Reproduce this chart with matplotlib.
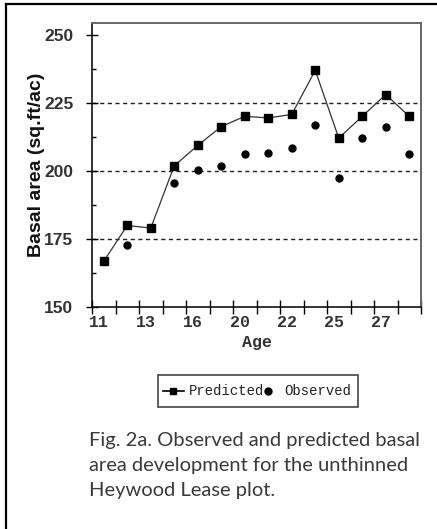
import matplotlib
matplotlib.use("Agg")
import matplotlib.pyplot as plt
from matplotlib.lines import Line2D
from matplotlib.patches import Rectangle

# Stand age classes (only every other one is labelled on the axis)
ages = ["11", "12", "13", "15", "16", "18", "20", "21", "22", "24", "25", "26", "27", "28"]
predicted = [166.8, 180.0, 179.0, 201.9, 209.4, 216.3, 220.1, 219.5, 220.8, 237.0, 212.1, 220.1, 228.1, 220.1]
observed = [166.8, 172.7, 179.0, 195.6, 200.2, 201.9, 206.4, 206.6, 208.5, 216.8, 197.4, 212.1, 216.2, 206.4]
y_major = [150, 175, 200, 225, 250]
y_minor = [162.5, 187.5, 212.5, 237.5]
grid_levels = [175, 200, 225]
caption_lines = ["Fig. 2a. Observed and predicted basal",
                 "area development for the unthinned",
                 "Heywood Lease plot."]

W, H = 437, 529
fig = plt.figure(figsize=(W / 100, H / 100), dpi=100)
fig.patch.set_facecolor("white")


def fx(px):
    return px / W


def fy(py):
    return 1 - py / H


# frame lines along the top and left edges
fig.add_artist(Line2D([fx(6), fx(437)], [fy(4), fy(4)], color="black", lw=1.6))
fig.add_artist(Line2D([fx(6), fx(6)], [fy(4), fy(529)], color="black", lw=1.6))

ax = fig.add_axes([fx(92), fy(307), fx(421) - fx(92), fy(23) - fy(307)])
x = list(range(len(ages)))

for g in grid_levels:
    ax.axhline(g, color="#222222", lw=1.0, ls=(0, (3, 2.5)), zorder=1)

ax.plot(x, observed, ls="none", marker="o", ms=5, color="black", zorder=3)
ax.plot(x, predicted, color="#333333", lw=0.9, marker="s", ms=5.5,
        mfc="black", mec="black", zorder=4)

ax.set_xlim(-0.5, len(ages) - 0.5)
ax.set_ylim(150, 254.4)

for s in ["left", "bottom"]:
    ax.spines[s].set_color("#111111")
    ax.spines[s].set_linewidth(1.2)
for s in ["top", "right"]:
    ax.spines[s].set_color("#666666")
    ax.spines[s].set_linewidth(1.4)

ax.set_yticks(y_major)
ax.set_yticks(y_minor, minor=True)
ax.set_yticklabels([str(v) for v in y_major], fontsize=12.5, fontweight="bold",
                   color="#333333", family="Liberation Sans")
ax.tick_params(axis="y", which="major", direction="inout", length=9, width=1.0, pad=9)
ax.tick_params(axis="y", which="minor", direction="in", length=3, width=1.0)

# category boundaries carry the tick marks; labels sit just right of them
ax.set_xticks([i - 0.5 for i in range(len(ages) + 1)])
ax.set_xticklabels([])
ax.set_xticks([i - 0.2 for i in range(0, len(ages), 2)], minor=True)
ax.set_xticklabels([ages[i] for i in range(0, len(ages), 2)], minor=True,
                   fontsize=12, fontweight="bold", color="#333333",
                   family="Liberation Mono")
ax.tick_params(axis="x", which="major", direction="inout", length=10, width=1.0)
ax.tick_params(axis="x", which="minor", length=0, pad=6)

ax.set_ylabel("Basal area (sq.ft/ac)", fontsize=14, fontweight="bold",
              family="Liberation Sans", color="#111111")
ax.yaxis.set_label_coords(-0.143, 0.5)
ax.set_xlabel("Age", fontsize=12, fontweight="bold", family="Liberation Mono",
              color="#333333", labelpad=3)

# legend box
fig.add_artist(Rectangle((fx(158), fy(407)), fx(358) - fx(158), fy(375) - fy(407),
                         transform=fig.transFigure, fill=False, ec="#444444", lw=1.2))
ly = fy(391)
fig.add_artist(Line2D([fx(163), fx(184)], [ly, ly], color="black", lw=1.2))
fig.add_artist(Line2D([fx(173)], [ly], marker="s", ms=5, color="black", ls="none"))
fig.text(fx(189), ly, "Predicted", fontsize=10, family="Liberation Mono",
         color="#222222", va="center", ha="left")
fig.add_artist(Line2D([fx(268)], [ly], marker="o", ms=5, color="black", ls="none"))
fig.text(fx(284), ly, "Observed", fontsize=10, family="Liberation Mono",
         color="#222222", va="center", ha="left")

for k, line in enumerate(caption_lines):
    fig.text(fx(89), fy(446 + 25 * k), line, fontsize=14.5, family="Lato",
             color="#3a3a3a", ha="left", va="baseline")

fig.savefig("out.png", dpi=100, facecolor="white")
